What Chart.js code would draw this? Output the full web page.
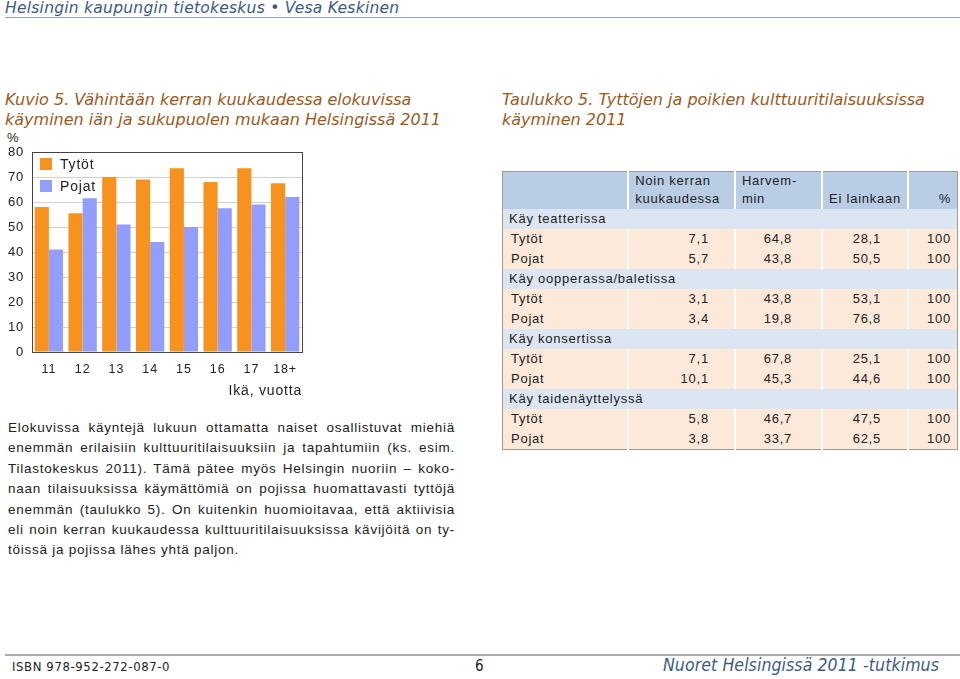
<!DOCTYPE html>
<html>
<head>
<meta charset="utf-8">
<script src="https://cdn.jsdelivr.net/npm/chart.js@4.4.1/dist/chart.umd.min.js"></script>
<style>
  html, body { margin: 0; padding: 0; background: #fff; }
  body { width: 960px; height: 679px; position: relative; overflow: hidden; font-family: "Liberation Sans", Arial, sans-serif; }
  .abs { position: absolute; white-space: nowrap; }
  .head { left: 5px; top: -2px; font-family: "DejaVu Sans", sans-serif; font-style: italic; font-size: 15.5px; letter-spacing: 0.25px; line-height: 20px; color: #3b5a86; }
  .headline { left: 5px; top: 17px; width: 955px; height: 1px; background: #8fa3c0; }
  .caption { font-family: "DejaVu Sans", sans-serif; font-style: italic; font-size: 16px; color: #9a5a1e; line-height: 19.5px; }
  .body { left: 8px; top: 418px; width: 447px; font-size: 13.5px; letter-spacing: 0.75px; color: #222; line-height: 20.4px; }
  .body div { text-align: justify; text-align-last: justify; white-space: normal; }
  .body div.last { text-align-last: left; }
  table { border-collapse: collapse; font-size: 13px; letter-spacing: 0.75px; color: #222; }
  #tbl { left: 502px; top: 171px; width: 456px; border: 1px solid #a89888; }
  #tbl td { padding: 0 6px; height: 20px; line-height: 20px; border-left: 2px solid #fff; }
  #tbl td:first-child { border-left: none; }
  #tbl tr.hd td { background: #b9cde5; height: 36px; vertical-align: bottom; line-height: 18px; padding-bottom: 1px; }
  #tbl tr.sec td { background: #dce6f2; }
  #tbl tr.row td { background: #fde9da; text-align: right; }
  #tbl tr.row td:first-child { text-align: left; padding-left: 8px; }
  .foot { left: 5px; top: 654px; width: 955px; height: 2px; background: #a4acb8; }
</style>
</head>
<body>
<div class="abs head">Helsingin kaupungin tietokeskus • Vesa Keskinen</div>
<div class="abs headline"></div>

<div class="abs caption" style="left:5px; top:90px;">Kuvio 5. Vähintään kerran kuukaudessa elokuvissa<br>käyminen iän ja sukupuolen mukaan Helsingissä 2011</div>
<div class="abs" style="left:7px; top:130px; font-size:13px; color:#222;">%</div>
<div class="abs" style="left:0; top:130px; width:310px; height:270px;">
  <canvas id="chart" width="310" height="270"></canvas>
</div>

<div class="abs body">
  <div>Elokuvissa käyntejä lukuun ottamatta naiset osallistuvat miehiä</div>
  <div>enemmän erilaisiin kulttuuritilaisuuksiin ja tapahtumiin (ks. esim.</div>
  <div>Tilastokeskus 2011). Tämä pätee myös Helsingin nuoriin – koko-</div>
  <div>naan tilaisuuksissa käymättömiä on pojissa huomattavasti tyttöjä</div>
  <div>enemmän (taulukko 5). On kuitenkin huomioitavaa, että aktiivisia</div>
  <div>eli noin kerran kuukaudessa kulttuuritilaisuuksissa kävijöitä on ty-</div>
  <div class="last">töissä ja pojissa lähes yhtä paljon.</div>
</div>

<div class="abs caption" style="left:502px; top:90px;">Taulukko 5. Tyttöjen ja poikien kulttuuritilaisuuksissa<br>käyminen 2011</div>
<table class="abs" id="tbl"></table>

<div class="abs foot"></div>
<div class="abs" style="left:12px; top:659px; font-size:13px; letter-spacing:0.6px; color:#222; font-family:'DejaVu Sans Condensed', sans-serif;">ISBN 978-952-272-087-0</div>
<div class="abs" style="left:475px; top:657px; font-size:15px; color:#222; font-family:'DejaVu Sans Condensed', sans-serif;">6</div>
<div class="abs" style="left:663px; top:655px; font-size:17.5px; letter-spacing:0.1px; color:#3b5a86; font-style:italic; font-family:'DejaVu Sans Condensed', sans-serif;">Nuoret Helsingissä 2011 -tutkimus</div>

<script>
// chart data
const ages = ["11", "12", "13", "14", "15", "16", "17", "18+"];
const tytot = [58, 55.5, 70, 69, 73.5, 68, 73.5, 67.5];
const pojat = [41, 61.5, 51, 44, 50, 57.5, 59, 62];
const yTicks = [0, 10, 20, 30, 40, 50, 60, 70, 80];

// table data
const colHeads = ["Noin kerran<br>kuukaudessa", "Harvem-<br>min", "Ei lainkaan", "%"];
const sections = ["Käy teatterissa", "Käy oopperassa/baletissa", "Käy konsertissa", "Käy taidenäyttelyssä"];
const groups = ["Tytöt", "Pojat"];
const tableValues = [
    [["7,1", "64,8", "28,1", "100"], ["5,7", "43,8", "50,5", "100"]],
    [["3,1", "43,8", "53,1", "100"], ["3,4", "19,8", "76,8", "100"]],
    [["7,1", "67,8", "25,1", "100"], ["10,1", "45,3", "44,6", "100"]],
    [["5,8", "46,7", "47,5", "100"], ["3,8", "33,7", "62,5", "100"]]
];
const colWidths = [129, 107, 88, 82, 50];
const valPad = [25, 29, 26, 6];

// build the table
const tbl = document.getElementById("tbl");
let html = '<colgroup>' + colWidths.map(w => '<col style="width:' + w + 'px">').join('') + '</colgroup>';
html += '<tr class="hd"><td></td>' + colHeads.map((h, i) =>
    '<td style="text-align:' + (i >= 2 ? 'right' : 'left') + '">' + h + '</td>').join('') + '</tr>';
sections.forEach((s, si) => {
    html += '<tr class="sec"><td colspan="5">' + s + '</td></tr>';
    groups.forEach((g, gi) => {
        const v = tableValues[si][gi];
        html += '<tr class="row"><td>' + g + '</td>' +
            v.map((x, i) => '<td style="padding-right:' + valPad[i] + 'px">' + x + '</td>').join('') +
            '</tr>';
    });
});
tbl.innerHTML = html;

// wider letter spacing for canvas text
const spacing = {
    id: "spacing",
    beforeDraw(chart) { chart.ctx.letterSpacing = "0.8px"; }
};

// frame round the plot area
const plotBorder = {
    id: "plotBorder",
    afterDatasetsDraw(chart) {
        const a = chart.chartArea;
        const ctx = chart.ctx;
        ctx.save();
        ctx.strokeStyle = "#444";
        ctx.lineWidth = 1;
        ctx.strokeRect(Math.round(a.left) + 0.5, Math.round(a.top) + 0.5,
            Math.round(a.right - a.left), Math.round(a.bottom - a.top));
        ctx.restore();
    }
};

// legend drawn inside the plot, top left
const innerLegend = {
    id: "innerLegend",
    afterDraw(chart) {
        const a = chart.chartArea;
        const ctx = chart.ctx;
        ctx.save();
        ctx.font = "14px 'Liberation Sans'";
        ctx.textBaseline = "middle";
        chart.data.datasets.forEach((ds, i) => {
            const y = a.top + 6 + i * 22;
            ctx.fillStyle = ds.backgroundColor;
            ctx.fillRect(a.left + 8, y, 12, 12);
            ctx.fillStyle = "#222";
            ctx.fillText(ds.label, a.left + 28, y + 7);
        });
        ctx.restore();
    }
};

const ctx = document.getElementById("chart").getContext("2d");
new Chart(ctx, {
    type: "bar",
    data: {
        labels: ages,
        datasets: [
            { label: "Tytöt", data: tytot, backgroundColor: "#f7921e" },
            { label: "Pojat", data: pojat, backgroundColor: "#939dfb" }
        ]
    },
    options: {
        responsive: false,
        animation: false,
        layout: { padding: { top: 22, right: 8, left: 0, bottom: 0 } },
        datasets: { bar: { categoryPercentage: 0.84, barPercentage: 1.0 } },
        plugins: {
            legend: { display: false },
            tooltip: { enabled: false }
        },
        scales: {
            x: {
                grid: { display: false, drawTicks: false },
                border: { display: false },
                ticks: { color: "#222", padding: 10, font: { family: "Liberation Sans", size: 12.5 } },
                title: {
                    display: true, text: "Ikä, vuotta", align: "end", color: "#222",
                    padding: { top: 1, bottom: 0 },
                    font: { family: "Liberation Sans", size: 14 }
                },
                afterFit(scale) { scale.height = 48; }
            },
            y: {
                min: 0, max: 80,
                afterBuildTicks(scale) { scale.ticks = yTicks.map(v => ({ value: v })); },
                grid: { color: "#d0d0d0", drawTicks: false },
                border: { display: false },
                ticks: { color: "#222", padding: 8, font: { family: "Liberation Sans", size: 13 } },
                afterFit(scale) { scale.width = 32; }
            }
        }
    },
    plugins: [spacing, plotBorder, innerLegend]
});
</script>
</body>
</html>
